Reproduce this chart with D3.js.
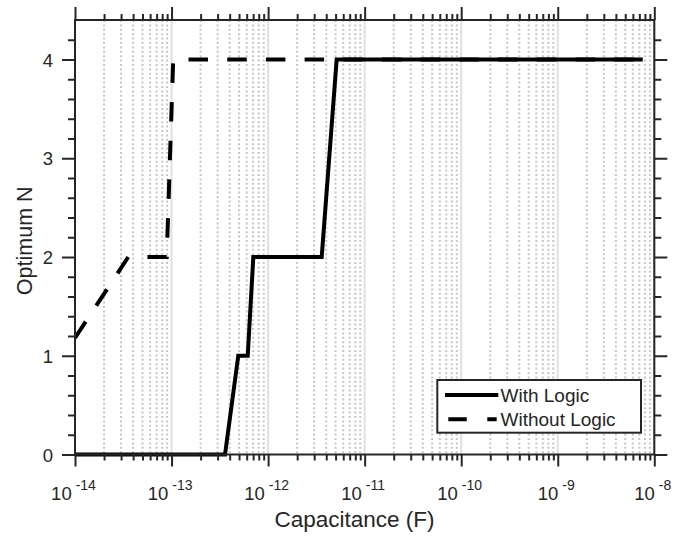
<!DOCTYPE html>
<html>
<head>
<meta charset="utf-8">
<script src="https://cdn.jsdelivr.net/npm/d3@7/dist/d3.min.js"></script>
<style>
  html, body { margin: 0; padding: 0; background: #fff; }
  svg { display: block; }
  text { font-family: "Liberation Sans", Arial, Helvetica, sans-serif; fill: #262626; }
</style>
</head>
<body>
<svg id="chart" width="675" height="537"></svg>
<script>
// Optimum N versus load capacitance, with and without logic
const capWith = [1e-14, 3.58e-13, 4.91e-13, 6.15e-13, 7.03e-13, 3.59e-12, 5.13e-12, 7.59e-9];
const nWith = [0, 0, 1, 1, 2, 2, 4, 4];
const capWithout = [1e-14, 3.56e-14, 8.91e-14, 1.04e-13, 7.59e-9];
const nWithout = [1.18, 2, 2, 4, 4];

const xDecades = [-14, -13, -12, -11, -10, -9, -8];
const yTicks = [0, 1, 2, 3, 4];
const yMinorTicks = [0.2, 0.4, 0.6, 0.8, 1.2, 1.4, 1.6, 1.8, 2.2, 2.4, 2.6, 2.8, 3.2, 3.4, 3.6, 3.8, 4.2];
const seriesNames = ["With Logic", "Without Logic"];

const svg = d3.select("#chart");
const plotLeft = 75, plotRight = 654.3, plotTop = 20, plotBottom = 454.5;
const axisColor = "#262626";

const x = d3.scaleLog().domain([1e-14, 1e-8]).range([plotLeft, plotRight]);
const y = d3.scaleLinear().domain([0, 4.4]).range([plotBottom, plotTop]);

const majorX = xDecades.map(e => Math.pow(10, e));
const minorX = [];
xDecades.slice(0, -1).forEach(e => {
  for (let k = 2; k <= 9; k++) minorX.push(k * Math.pow(10, e));
});

// Vertical grid: solid at decades, dotted at minor ticks
const grid = svg.append("g");
grid.selectAll("line.minor").data(minorX).join("line")
  .attr("class", "minor")
  .attr("x1", d => x(d)).attr("x2", d => x(d))
  .attr("y1", plotTop).attr("y2", plotBottom)
  .attr("stroke", "#c6c6c6").attr("stroke-width", 2)
  .attr("stroke-dasharray", "2,2.4");
grid.selectAll("line.major").data(majorX).join("line")
  .attr("class", "major")
  .attr("x1", d => x(d)).attr("x2", d => x(d))
  .attr("y1", plotTop).attr("y2", plotBottom)
  .attr("stroke", "#e0e0e0").attr("stroke-width", 2);

// Data lines
const line = d3.line().x(d => x(d[0])).y(d => y(d[1]));
const withData = capWith.map((c, i) => [c, nWith[i]]);
const withoutData = capWithout.map((c, i) => [c, nWithout[i]]);

svg.append("path").datum(withoutData)
  .attr("d", line)
  .attr("fill", "none").attr("stroke", "#000").attr("stroke-width", 4)
  .attr("stroke-linejoin", "miter").attr("stroke-linecap", "butt")
  .attr("stroke-dasharray", "19.5,19.2");
svg.append("path").datum(withData)
  .attr("d", line)
  .attr("fill", "none").attr("stroke", "#000").attr("stroke-width", 4)
  .attr("stroke-linejoin", "miter").attr("stroke-linecap", "butt");

// Axes (ticks point outward on all four sides)
function styleAxis(g) {
  g.select(".domain").remove();
  g.selectAll(".tick line").attr("stroke", axisColor).attr("stroke-width", 2);
  g.selectAll(".tick text").remove();
}

svg.append("g").attr("transform", `translate(0,${plotBottom})`)
  .call(d3.axisBottom(x).tickValues(minorX).tickSize(6).tickFormat(() => "")).call(styleAxis);
const xMajorBottom = svg.append("g").attr("transform", `translate(0,${plotBottom})`)
  .call(d3.axisBottom(x).tickValues(majorX).tickSize(12).tickFormat(() => "")).call(styleAxis);
svg.append("g").attr("transform", `translate(0,${plotTop})`)
  .call(d3.axisTop(x).tickValues(minorX).tickSize(6).tickFormat(() => "")).call(styleAxis);
svg.append("g").attr("transform", `translate(0,${plotTop})`)
  .call(d3.axisTop(x).tickValues(majorX).tickSize(13).tickFormat(() => "")).call(styleAxis);

svg.append("g").attr("transform", `translate(${plotLeft},0)`)
  .call(d3.axisLeft(y).tickValues(yMinorTicks).tickSize(7).tickFormat(() => "")).call(styleAxis);
const yMajorLeft = svg.append("g").attr("transform", `translate(${plotLeft},0)`)
  .call(d3.axisLeft(y).tickValues(yTicks).tickSize(13).tickFormat(() => "")).call(styleAxis);
svg.append("g").attr("transform", `translate(${plotRight},0)`)
  .call(d3.axisRight(y).tickValues(yMinorTicks).tickSize(7).tickFormat(() => "")).call(styleAxis);
svg.append("g").attr("transform", `translate(${plotRight},0)`)
  .call(d3.axisRight(y).tickValues(yTicks).tickSize(13).tickFormat(() => "")).call(styleAxis);

// Box
svg.append("rect")
  .attr("x", plotLeft).attr("y", plotTop)
  .attr("width", plotRight - plotLeft).attr("height", plotBottom - plotTop)
  .attr("fill", "none").attr("stroke", axisColor).attr("stroke-width", 2);

// X tick labels as powers of ten
xMajorBottom.selectAll(".tick").each(function(d, i) {
  const t = d3.select(this).append("text")
    .attr("x", -2).attr("y", 45.5)
    .attr("text-anchor", "middle")
    .style("font-size", "18.5px");
  t.append("tspan").text("10");
  t.append("tspan").attr("dx", 4).attr("dy", -10)
    .style("font-size", "14px").text(String(xDecades[i]));
});

// Y tick labels
yMajorLeft.selectAll(".tick").append("text")
  .attr("x", -22).attr("dy", "0.36em")
  .attr("text-anchor", "end")
  .style("font-size", "18.5px")
  .text(d => d);

// Axis titles
svg.append("text")
  .attr("x", 354.5).attr("y", 527.3)
  .attr("text-anchor", "middle")
  .style("font-size", "22.5px")
  .text("Capacitance (F)");
svg.append("text")
  .attr("transform", "translate(32,240.8) rotate(-90)")
  .attr("text-anchor", "middle")
  .style("font-size", "21.5px")
  .text("Optimum N");

// Legend
const lg = svg.append("g");
lg.append("rect")
  .attr("x", 437.3).attr("y", 380).attr("width", 203.7).attr("height", 52.7)
  .attr("fill", "#fff").attr("stroke", axisColor).attr("stroke-width", 2);
lg.append("line")
  .attr("x1", 445).attr("x2", 498.3).attr("y1", 395).attr("y2", 395)
  .attr("stroke", "#000").attr("stroke-width", 4);
lg.append("line")
  .attr("x1", 448.3).attr("x2", 496.7).attr("y1", 419.3).attr("y2", 419.3)
  .attr("stroke", "#000").attr("stroke-width", 4)
  .attr("stroke-dasharray", "18.5,20.5");
lg.selectAll("text.item").data(seriesNames).join("text")
  .attr("class", "item")
  .attr("x", 500.5)
  .attr("y", (d, i) => 401.7 + i * 23.8)
  .style("font-size", "19px")
  .text(d => d);
</script>
</body>
</html>
